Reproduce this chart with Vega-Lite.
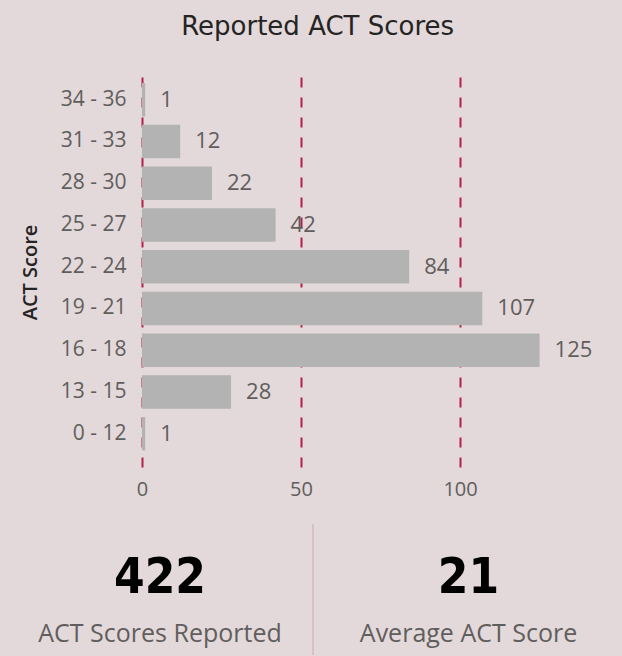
{
  "$schema": "https://vega.github.io/schema/vega-lite/v6.json",
  "background": "#e3d8da",
  "padding": {"left": 20, "top": 14, "right": 0, "bottom": 0},
  "title": {"text": "Reported ACT Scores", "font": "DejaVu Sans", "fontSize": 26, "fontWeight": "normal", "color": "#252423", "anchor": "middle", "offset": 37, "dx": -4},
  "config": {"view": {"stroke": null}, "font": "Open Sans"},
  "spacing": 24,
  "vconcat": [
    {
      "width": 465,
      "height": 390,
      "data": {"values": [
        {"range": "34 - 36", "count": 1},
        {"range": "31 - 33", "count": 12},
        {"range": "28 - 30", "count": 22},
        {"range": "25 - 27", "count": 42},
        {"range": "22 - 24", "count": 84},
        {"range": "19 - 21", "count": 107},
        {"range": "16 - 18", "count": 125},
        {"range": "13 - 15", "count": 28},
        {"range": "0 - 12", "count": 1}
      ]},
      "encoding": {
        "y": {"field": "range", "type": "nominal",
          "sort": ["34 - 36", "31 - 33", "28 - 30", "25 - 27", "22 - 24", "19 - 21", "16 - 18", "13 - 15", "0 - 12"],
          "scale": {"paddingInner": 0.2, "paddingOuter": 0.27, "align": 0.265},
          "axis": {"title": "ACT Score", "titleFont": "Open Sans", "titleFontSize": 20, "titleFontWeight": 600, "titleColor": "#252423", "titlePadding": 20,
            "labelFont": "Open Sans", "labelFontSize": 21, "labelColor": "#605e5c", "labelPadding": 16, "ticks": false, "domain": false}},
        "x": {"field": "count", "type": "quantitative", "scale": {"domain": [0, 146.2]},
          "axis": {"title": null, "values": [0, 50, 100], "grid": true, "gridColor": "#b3214b", "gridDash": [10, 10], "gridWidth": 2,
            "ticks": false, "domain": false, "labelFlush": false, "labelFont": "Open Sans", "labelFontSize": 20, "labelColor": "#605e5c", "labelPadding": 12}}
      },
      "layer": [
        {"mark": {"type": "bar", "color": "#b3b3b3"}},
        {"mark": {"type": "text", "align": "left", "baseline": "middle", "dx": 15, "fontSize": 22, "color": "#605e5c"},
          "encoding": {"text": {"field": "count", "type": "quantitative"}}}
      ]
    },
    {
      "spacing": 0,
      "hconcat": [
        {
          "width": 171,
          "height": 131,
          "data": {"values": [{"value": "422", "label": "ACT Scores Reported"}]},
          "layer": [
            {"mark": {"type": "text", "font": "DejaVu Sans Condensed", "fontSize": 49, "fontWeight": "bold", "color": "#000000", "baseline": "middle", "dy": -12, "dx": -67.5},
              "encoding": {"text": {"field": "value", "type": "nominal"}}},
            {"mark": {"type": "text", "fontSize": 25, "color": "#605e5c", "baseline": "middle", "dy": 44, "dx": -67.5},
              "encoding": {"text": {"field": "label", "type": "nominal"}}},
            {"mark": {"type": "rule", "color": "#d9c0c8", "strokeWidth": 2},
              "encoding": {"x": {"datum": 1, "type": "quantitative", "scale": {"domain": [0, 1]}, "axis": null}}}
          ],
          "resolve": {"scale": {"x": "independent"}}
        },
        {
          "width": 309,
          "height": 131,
          "data": {"values": [{"value": "21", "label": "Average ACT Score"}]},
          "layer": [
            {"mark": {"type": "text", "font": "DejaVu Sans Condensed", "fontSize": 49, "fontWeight": "bold", "color": "#000000", "baseline": "middle", "dy": -12},
              "encoding": {"text": {"field": "value", "type": "nominal"}}},
            {"mark": {"type": "text", "fontSize": 25, "color": "#605e5c", "baseline": "middle", "dy": 44},
              "encoding": {"text": {"field": "label", "type": "nominal"}}}
          ]
        }
      ]
    }
  ]
}
